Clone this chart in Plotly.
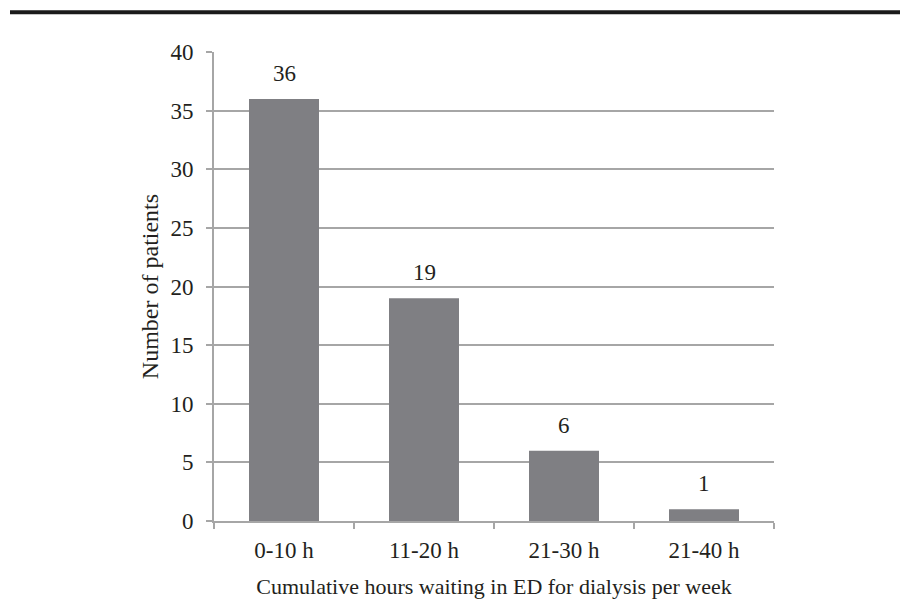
import plotly.graph_objects as go

categories = ["0-10 h", "11-20 h", "21-30 h", "21-40 h"]
patients = [36, 19, 6, 1]
y_ticks = [0, 5, 10, 15, 20, 25, 30, 35, 40]

font = "Liberation Serif, Times New Roman, serif"
grid = "#a6a6a6"
txt = "#231f20"

fig = go.Figure()
fig.add_trace(go.Bar(
    x=categories, y=patients, width=0.5,
    marker=dict(color="#7f7f83", line=dict(width=0)),
))
for c, v in zip(categories, patients):
    fig.add_annotation(x=c, y=v, text=str(v), showarrow=False,
                       yanchor="bottom", yshift=11,
                       font=dict(family=font, size=23, color=txt))

W, H = 900, 599
L, R, T, B = 206, 134, 44, 84
pw, ph = W - L - R, H - T - B
fig.update_layout(
    width=W, height=H,
    margin=dict(l=L, r=R, t=T, b=B),
    paper_bgcolor="white", plot_bgcolor="white",
    showlegend=False,
    font=dict(family=font, size=23, color=txt),
    shapes=[dict(type="line", xref="paper", yref="paper",
                 x0=-(L - 2) / pw, x1=(W - L) / pw, y0=1 + (T - 4) / ph, y1=1 + (T - 4) / ph,
                 line=dict(color="#1a1a1a", width=4))],
)
fig.update_xaxes(
    type="category", tickson="boundaries", ticks="outside", ticklen=6,
    tickcolor=grid, tickwidth=2, showline=True, linecolor=grid, linewidth=2,
    showgrid=False, ticklabelstandoff=7,
    title=dict(text="Cumulative hours waiting in ED for dialysis per week",
               font=dict(size=22), standoff=17),
    tickfont=dict(size=23),
)
fig.update_yaxes(
    range=[0, 40], tickvals=y_ticks, ticks="outside", ticklen=6,
    tickcolor=grid, tickwidth=2, showline=True, linecolor=grid, linewidth=2,
    showgrid=True, gridcolor=grid, gridwidth=2, zeroline=False,
    ticklabelstandoff=8,
    title=dict(text="Number of patients", font=dict(size=24), standoff=5),
    tickfont=dict(size=23),
)
fig.write_html("out.html")
